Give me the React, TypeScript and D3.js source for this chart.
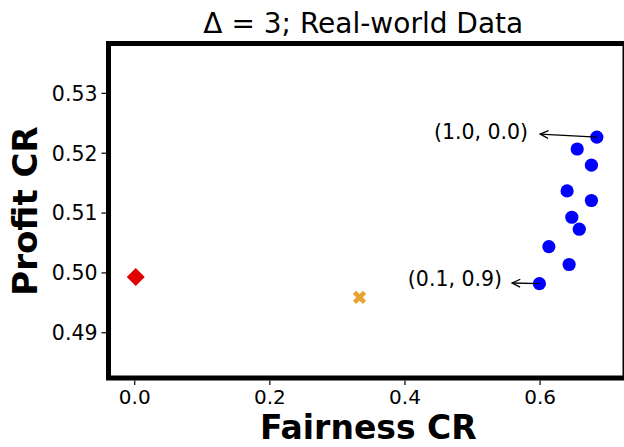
import React from 'react';
import * as d3 from 'd3';

// blue points: (fairness CR, profit CR) for each trade-off weight
const blueX = [0.684, 0.655, 0.676, 0.640, 0.676, 0.647, 0.658, 0.613, 0.643, 0.599];
const blueY = [0.5227, 0.5207, 0.5180, 0.5137, 0.5121, 0.5093, 0.5073, 0.5044, 0.5014, 0.4982];
const redPoint = [0.0015, 0.4993];
const orangePoint = [0.3327, 0.4959];

const annotations = [
    { label: '(1.0, 0.0)', idx: 0 },
    { label: '(0.1, 0.9)', idx: 9 },
];

const xTicks = [0.0, 0.2, 0.4, 0.6];
const yTicks = [0.49, 0.50, 0.51, 0.52, 0.53];

const W = 624;
const H = 447;
const FONT = 'DejaVu Sans, sans-serif';

export default function App() {
    const left = 108.5, right = 625, top = 43.5, bottom = 378;

    const x = d3.scaleLinear().domain([-0.0388, 0.7257]).range([left, right]);
    const y = d3.scaleLinear().domain([0.48244, 0.53833]).range([bottom, top]);

    // arrow geometry, pixel offsets from the annotated point
    const annoStyle = [
        { textDx: -68.7, textDy: -5.5, tipDx: -56.7, tipDy: -3 },
        { textDx: -37.3, textDy: -5, tipDx: -27.3, tipDy: -0.7 },
    ];

    const cx = x(orangePoint[0]), cy = y(orangePoint[1]);
    const rx = x(redPoint[0]), ry = y(redPoint[1]);

    return (
        <div style={{ position: 'absolute', left: 0, top: 0 }}>
            <svg width={W} height={H} style={{ display: 'block', background: '#fff' }} fontFamily={FONT}>
                <defs>
                    <clipPath id="plot">
                        <rect x={left} y={top} width={right - left} height={bottom - top} />
                    </clipPath>
                </defs>

                <text x={363.3} y={33.3} fontSize={28} textAnchor="middle" fill="#000">
                    Δ = 3; Real-world Data
                </text>

                {/* y ticks */}
                {yTicks.map(t => (
                    <g key={t}>
                        <line x1={101.5} x2={106} y1={y(t)} y2={y(t)} stroke="#000" strokeWidth={1.2} />
                        <text x={97.5} y={y(t)} dy="0.36em" fontSize={20.5} textAnchor="end" fill="#000">
                            {t.toFixed(2)}
                        </text>
                    </g>
                ))}

                {/* x ticks */}
                {xTicks.map(t => (
                    <g key={t}>
                        <line x1={x(t)} x2={x(t)} y1={380.5} y2={385} stroke="#000" strokeWidth={1.2} />
                        <text x={x(t)} y={404} fontSize={20} textAnchor="middle" fill="#000">
                            {t.toFixed(1)}
                        </text>
                    </g>
                ))}

                <g clipPath="url(#plot)">
                    {/* red diamond */}
                    <path d={`M${rx},${ry - 9} L${rx + 9},${ry} L${rx},${ry + 9} L${rx - 9},${ry} Z`} fill="#e00000" />

                    {/* orange X */}
                    <path
                        d={`M${cx - 5},${cy - 5} L${cx + 5},${cy + 5} M${cx - 5},${cy + 5} L${cx + 5},${cy - 5}`}
                        stroke="#eba12e" strokeWidth={4.5} />

                    {blueX.map((v, i) => (
                        <circle key={i} cx={x(v)} cy={y(blueY[i])} r={6.6} fill="#0000ff" />
                    ))}
                </g>

                {/* annotations */}
                {annotations.map((a, i) => {
                    const px = x(blueX[a.idx]);
                    const py = y(blueY[a.idx]);
                    const s = annoStyle[i];
                    const tx = px + s.tipDx, ty = py + s.tipDy;
                    const ang = Math.atan2(py - ty, px - tx);
                    const hl = 9, ha = 0.45;
                    const h1 = [tx + hl * Math.cos(ang - ha), ty + hl * Math.sin(ang - ha)];
                    const h2 = [tx + hl * Math.cos(ang + ha), ty + hl * Math.sin(ang + ha)];
                    return (
                        <g key={a.label}>
                            <line x1={px} y1={py} x2={tx} y2={ty} stroke="#000" strokeWidth={1.3} />
                            <path d={`M${h1[0]},${h1[1]} L${tx},${ty} L${h2[0]},${h2[1]}`} fill="none" stroke="#000" strokeWidth={1.3} />
                            <text x={px + s.textDx} y={py + s.textDy} dy="0.36em" fontSize={20.5} textAnchor="end" fill="#000">
                                {a.label}
                            </text>
                        </g>
                    );
                })}

                {/* frame */}
                <rect x={left} y={top} width={right - left} height={bottom - top} fill="none" stroke="#000" strokeWidth={5} />

                <text x={368.3} y={439.3} fontSize={33} fontWeight="bold" textAnchor="middle" fill="#000">
                    Fairness CR
                </text>
                <text transform="translate(37,211) rotate(-90)" fontSize={34} fontWeight="bold" textAnchor="middle" fill="#000">
                    Profit CR
                </text>
            </svg>
        </div>
    );
}
